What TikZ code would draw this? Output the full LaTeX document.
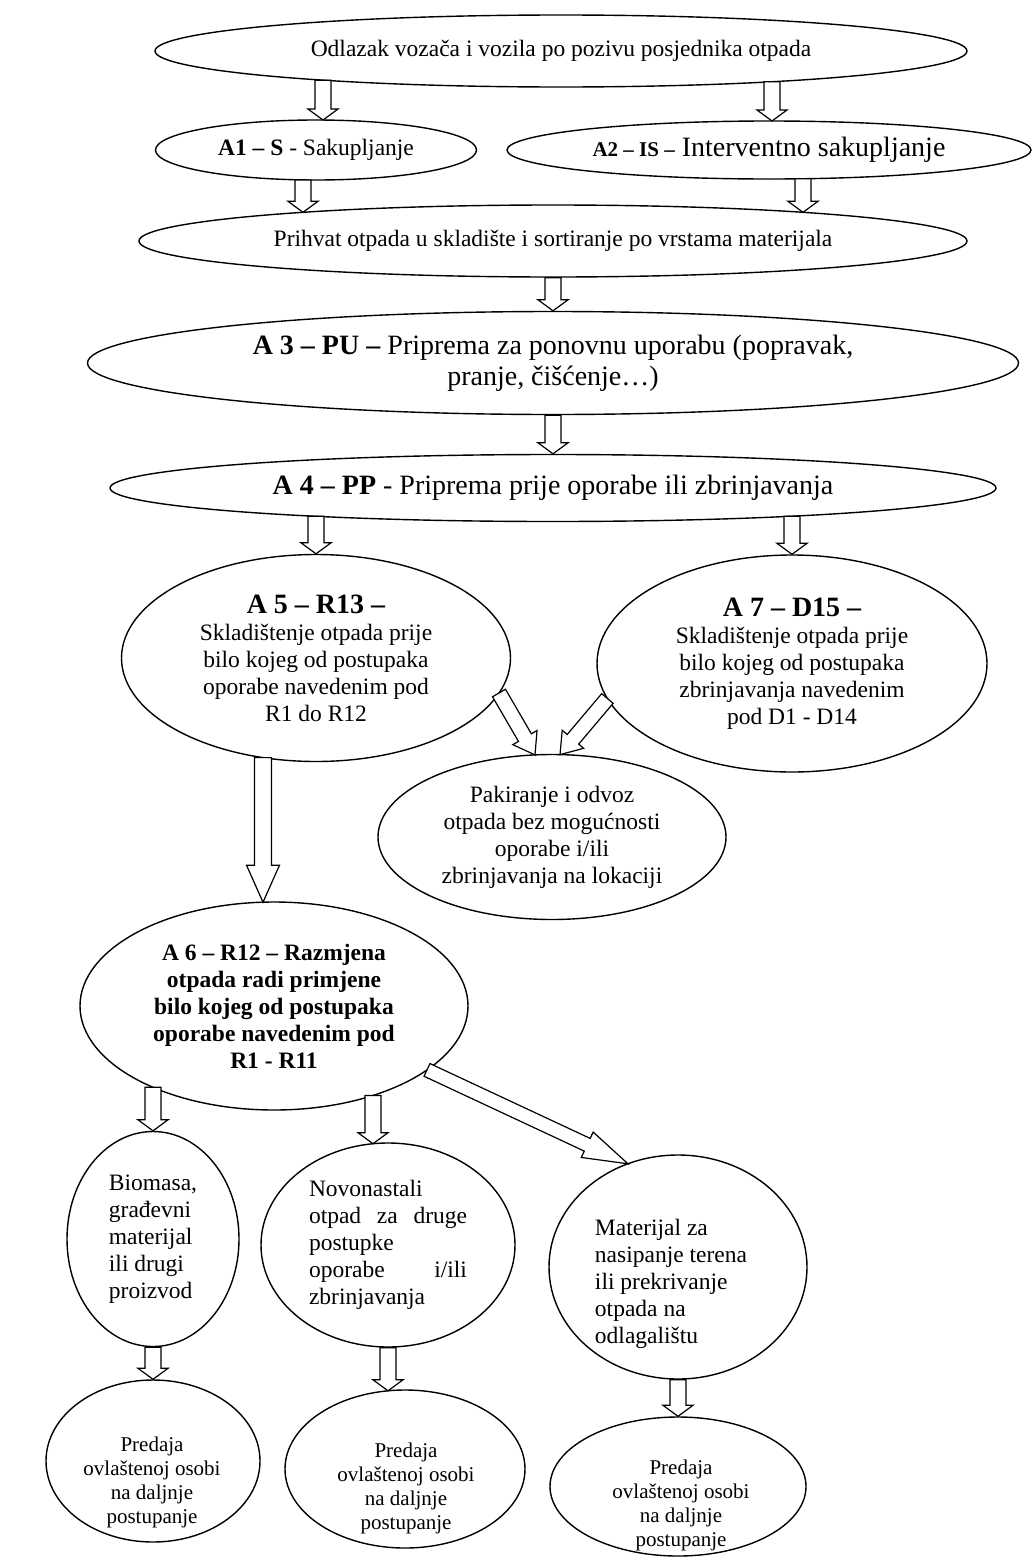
\documentclass[tikz,border=0pt]{standalone}
\usepackage{fontspec}
\setmainfont{Liberation Serif}
\usetikzlibrary{shapes.geometric,calc}
\tikzset{
  ell/.style={draw, ellipse, line width=1.4pt, inner sep=0pt, fill=white, align=center},
  txt/.style={inner sep=0pt},
  blockar/.style={draw, line width=1.2pt, fill=white, line join=miter},
  fs/.style={font=\fontsize{23.5}{27}\selectfont},
  fsb/.style={font=\fontsize{23.5}{27}\selectfont\bfseries},
  fl/.style={font=\fontsize{28}{31}\selectfont},
  fsm/.style={font=\fontsize{21}{24}\selectfont, align=center},
}
\newcommand{\blockarrow}[5]{%
  \draw[blockar] let \p1=(#1), \p2=(#2),
     \n1={atan2(\y2-\y1,\x2-\x1)}, \n2={veclen(\x2-\x1,\y2-\y1)} in
     ($(\p1)+(\n1+90:#3/2)$) -- ++(\n1:\n2-#5) -- ++(\n1+90:#4/2-#3/2) -- (\p2)
     -- ($(\p2)+(\n1+180:#5)+(\n1-90:#4/2)$) -- ++(\n1+90:#4/2-#3/2)
     -- ($(\p1)+(\n1-90:#3/2)$) -- cycle;}
\begin{document}
\begin{tikzpicture}[x=1pt,y=-1pt]
\useasboundingbox (0,0) rectangle (1035,1558);

\node[ell, fs, minimum width=812pt, minimum height=72pt] (e1) at (561,51)
  {Odlazak vozača i vozila po pozivu posjednika otpada};
\node[ell, fs, minimum width=321pt, minimum height=60pt] (e2) at (316,150)
  {\textbf{A1 – S} - Sakupljanje};
\node[ell, fl, minimum width=524pt, minimum height=58pt] (e3) at (769,150)
  {{\fontsize{21}{25}\selectfont\bfseries A2 – IS –} Interventno sakupljanje};
\node[ell, fs, minimum width=828pt, minimum height=72pt] (e4) at (553,241)
  {Prihvat otpada u skladište i sortiranje po vrstama materijala};
\node[ell, fl, minimum width=931pt, minimum height=103pt] (e5) at (553,363)
  {\textbf{A 3 – PU –} Priprema za ponovnu uporabu (popravak,\\ pranje, čišćenje…)};
\node[ell, fl, minimum width=886pt, minimum height=67pt] (e6) at (553,488)
  {\textbf{A 4 – PP} - Priprema prije oporabe ili zbrinjavanja};
\node[ell, fs, minimum width=389pt, minimum height=207pt] (e7) at (316,658)
  {{\fontsize{28}{30}\selectfont\bfseries A 5 – R13 –}\\ Skladištenje otpada prije\\ bilo kojeg od postupaka\\ oporabe navedenim pod\\ R1 do R12};
\node[ell, fs, minimum width=390pt, minimum height=217pt] (e8) at (792,663.5)
  {{\fontsize{28}{30}\selectfont\bfseries A 7 – D15 –}\\ Skladištenje otpada prije\\ bilo kojeg od postupaka\\ zbrinjavanja navedenim\\ pod D1 - D14};
\node[ell, fs, minimum width=348pt, minimum height=165pt] (e9) at (552,837)
  {Pakiranje i odvoz\\ otpada bez mogućnosti\\ oporabe i/ili\\ zbrinjavanja na lokaciji};
\node[ell, fsb, minimum width=388pt, minimum height=208pt] (e10) at (274,1006)
  {A 6 – R12 – Razmjena\\ otpada radi primjene\\ bilo kojeg od postupaka\\ oporabe navedenim pod\\ R1 - R11};
\node[ell, fs, align=left, minimum width=172pt, minimum height=215pt] (e11) at (153,1239)
  {Biomasa,\\ građevni\\ materijal\\ ili drugi\\ proizvod};
\node[ell, fs, align=left, minimum width=254pt, minimum height=204pt] (e12) at (388,1245)
  {Novonastali\\ \makebox[158pt][s]{otpad za druge}\\ postupke\\ \makebox[158pt][s]{oporabe i/ili}\\ zbrinjavanja};

\node[ell, minimum width=258pt, minimum height=224pt] (e13) at (678,1267) {};
\node[txt, fs, align=left] (t13) at (671,1284)
  {Materijal za\\ nasipanje terena\\ ili prekrivanje\\ otpada na\\ odlagalištu};
\node[ell, minimum width=214pt, minimum height=162pt] (e14) at (153,1461) {};
\node[txt, fsm] (t14) at (152,1482) {Predaja\\ ovlaštenoj osobi\\ na daljnje\\ postupanje};
\node[ell, minimum width=240pt, minimum height=158pt] (e15) at (405,1469) {};
\node[txt, fsm] (t15) at (406,1488) {Predaja\\ ovlaštenoj osobi\\ na daljnje\\ postupanje};
\node[ell, minimum width=256pt, minimum height=139pt] (e16) at (678,1486.5) {};
\node[txt, fsm] (t16) at (681,1505) {Predaja\\ ovlaštenoj osobi\\ na daljnje\\ postupanje};

\blockarrow{$(e1.center)+(-238,29.2)$}{$(e2.center)+(7,-29.97)$}{16pt}{30pt}{11pt}
\blockarrow{$(e1.center)+(211,30.8)$}{$(e3.center)+(3,-29)$}{16pt}{30pt}{11pt}
\blockarrow{$(e2.center)+(-13,29.9)$}{$(e4.center)+(-250,-28.7)$}{16pt}{30pt}{11pt}
\blockarrow{$(e3.center)+(34,28.75)$}{$(e4.center)+(250,-28.7)$}{16pt}{30pt}{11pt}
\blockarrow{e4.south}{e5.north}{16pt}{30pt}{11pt}
\blockarrow{e5.south}{e6.north}{16pt}{30pt}{11pt}
\blockarrow{$(e6.center)+(-237,28.3)$}{e7.north}{16pt}{30pt}{11pt}
\blockarrow{$(e6.center)+(239,28.2)$}{e8.north}{16pt}{30pt}{11pt}
\blockarrow{$(e7.center)+(-53,99.6)$}{$(e10.center)+(-11,-103.8)$}{17pt}{33pt}{37pt}
\blockarrow{$(e7.center)+(183,35)$}{$(e9.center)+(-17,-82.1)$}{15pt}{28pt}{20pt}
\blockarrow{$(e8.center)+(-184.6,35)$}{$(e9.center)+(8,-82.4)$}{15pt}{28pt}{20pt}
\blockarrow{$(e10.center)+(-121,81.3)$}{e11.north}{16pt}{30pt}{11pt}
\blockarrow{$(e10.center)+(99,89.4)$}{$(e12.center)+(-15,-101.3)$}{16pt}{30pt}{11pt}
\blockarrow{$(e10.center)+(153,63.9)$}{$(e13.center)+(-50,-103.2)$}{14pt}{28pt}{45pt}
\blockarrow{e11.south}{e14.north}{16pt}{30pt}{11pt}
\blockarrow{e12.south}{$(e15.center)+(-17,-78.2)$}{16pt}{30pt}{11pt}
\blockarrow{e13.south}{e16.north}{16pt}{30pt}{11pt}
\end{tikzpicture}
\end{document}
